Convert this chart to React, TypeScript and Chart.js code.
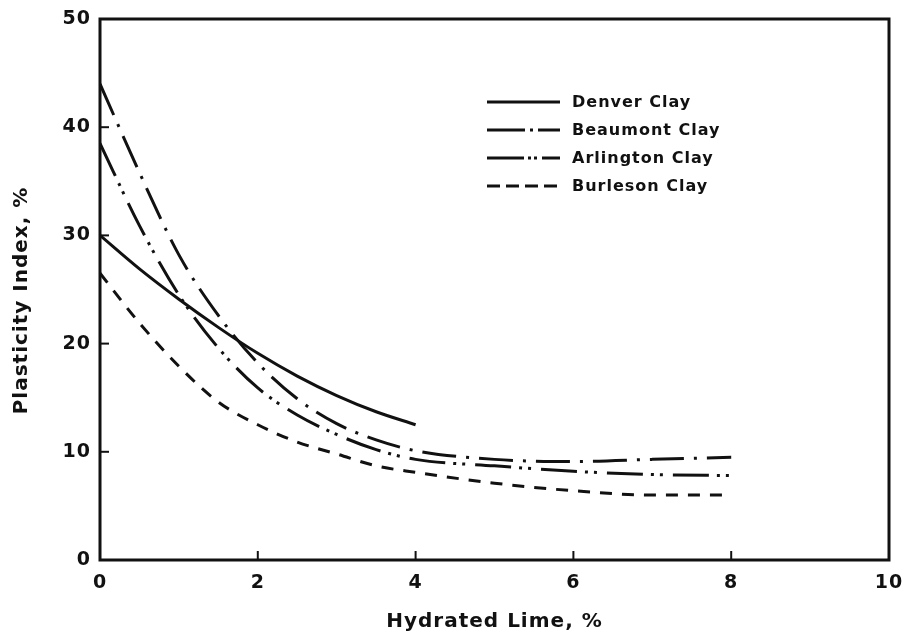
import React, { useEffect, useRef } from "react";
import { Chart, registerables } from "chart.js";

Chart.register(...registerables);

// ---- data ----
const xLong = [0, 0.5, 1, 1.5, 2, 2.5, 3, 3.5, 4, 5, 6, 7, 8];
const xShort = [0, 0.5, 1, 1.5, 2, 2.5, 3, 3.5, 4];
const denverClay = [30, 26.9, 24.1, 21.5, 19.1, 17.0, 15.2, 13.7, 12.5];
const beaumontClay = [44, 35.8, 28.2, 22.6, 18.2, 14.9, 12.6, 11.1, 10.1, 9.3, 9.1, 9.3, 9.5];
const arlingtonClay = [38.5, 30.9, 24.5, 19.6, 15.9, 13.4, 11.6, 10.2, 9.3, 8.7, 8.2, 7.9, 7.8];
const burlesonClay = [26.5, 21.9, 17.9, 14.6, 12.5, 10.9, 9.8, 8.7, 8.1, 7.1, 6.4, 6.0, 6.0];
const seriesNames = ["Denver Clay", "Beaumont Clay", "Arlington Clay", "Burleson Clay"];
const xTickValues = [0, 2, 4, 6, 8, 10];
const yTickValues = [0, 10, 20, 30, 40, 50];
const xTitle = "Hydrated Lime, %";
const yTitle = "Plasticity Index, %";

// ---- styles ----
const FONT = "'DejaVu Sans', 'Liberation Sans', sans-serif";
const INK = "#111111";
const plotDash: number[][] = [[], [34, 10, 3, 10], [36, 8, 3, 6, 3, 10], [12, 10]];
const legendDash: number[][] = [[], [38, 5, 3, 5, 30, 100], [37, 4, 3, 3, 3, 5, 30, 100], [13, 6]];

const toPts = (xs: number[], ys: number[]) => ys.map((y, i) => ({ x: xs[i], y }));

const letterSpacingPlugin = {
  id: "letterSpacing",
  beforeUpdate(chart: any) {
    chart.ctx.letterSpacing = "1px";
  },
  beforeDraw(chart: any) {
    chart.ctx.letterSpacing = "1px";
  },
};

const framePlugin = {
  id: "frameAndLegend",
  afterDraw(chart: any) {
    const { ctx, chartArea } = chart;
    const xs = chart.scales.x;
    const ys = chart.scales.y;
    ctx.save();
    ctx.strokeStyle = INK;
    ctx.lineWidth = 3;
    ctx.setLineDash([]);
    ctx.strokeRect(chartArea.left, chartArea.top, chartArea.right - chartArea.left, chartArea.bottom - chartArea.top);
    // inward tick marks
    ctx.lineWidth = 2;
    const tl = 9;
    xTickValues.slice(1, -1).forEach((v) => {
      const px = xs.getPixelForValue(v);
      ctx.beginPath();
      ctx.moveTo(px, chartArea.bottom);
      ctx.lineTo(px, chartArea.bottom - tl);
      ctx.stroke();
    });
    yTickValues.slice(1, -1).forEach((v) => {
      const py = ys.getPixelForValue(v);
      ctx.beginPath();
      ctx.moveTo(chartArea.left, py);
      ctx.lineTo(chartArea.left + tl, py);
      ctx.stroke();
    });
    // y axis title
    ctx.fillStyle = INK;
    ctx.font = `bold 20px ${FONT}`;
    ctx.textAlign = "center";
    ctx.textBaseline = "middle";
    ctx.save();
    ctx.translate(22, (chartArea.top + chartArea.bottom) / 2 + 11);
    ctx.rotate(-Math.PI / 2);
    ctx.fillText(yTitle, 0, 0);
    ctx.restore();
    // legend
    const lx0 = chartArea.left + 387;
    const lx1 = chartArea.left + 460;
    const tx = chartArea.left + 472;
    const rowY0 = chartArea.top + 83;
    const rowGap = 28;
    ctx.font = `bold 16px ${FONT}`;
    ctx.textBaseline = "middle";
    ctx.textAlign = "left";
    chart.data.datasets.forEach((ds: any, i: number) => {
      const y = rowY0 + i * rowGap;
      ctx.lineWidth = 3;
      ctx.lineCap = "butt";
      ctx.setLineDash(legendDash[i]);
      ctx.beginPath();
      ctx.moveTo(lx0, y);
      ctx.lineTo(lx1, y);
      ctx.stroke();
      ctx.setLineDash([]);
      ctx.fillText(ds.label, tx, y + 1);
    });
    ctx.restore();
  },
};

export default function App() {
  const ref = useRef<HTMLCanvasElement | null>(null);

  useEffect(() => {
    if (!ref.current) return;
    const series = [
      toPts(xShort, denverClay),
      toPts(xLong, beaumontClay),
      toPts(xLong, arlingtonClay),
      toPts(xLong, burlesonClay),
    ];
    const chart = new Chart(ref.current, {
      type: "line",
      data: {
        datasets: series.map((d, i) => ({
          label: seriesNames[i],
          data: d,
          borderColor: INK,
          backgroundColor: INK,
          borderWidth: 3,
          borderDash: plotDash[i],
          borderCapStyle: "butt",
          pointRadius: 0,
          fill: false,
          cubicInterpolationMode: "monotone",
        })),
      },
      options: {
        animation: false,
        responsive: false,
        devicePixelRatio: 1,
        layout: { padding: { left: 0, top: 19, right: 17, bottom: 0 } },
        plugins: { legend: { display: false }, tooltip: { enabled: false } },
        scales: {
          x: {
            type: "linear",
            min: 0,
            max: 10,
            afterBuildTicks: (s: any) => {
              s.ticks = xTickValues.map((v) => ({ value: v }));
            },
            afterFit: (s: any) => {
              s.height = 80;
              s.paddingLeft = 0;
              s.paddingRight = 0;
            },
            grid: { display: false, drawTicks: false },
            border: { display: false },
            ticks: {
              color: INK,
              padding: 12,
              maxRotation: 0,
              font: { family: FONT, size: 19, weight: "bold" },
            },
            title: {
              display: true,
              text: xTitle,
              color: INK,
              font: { family: FONT, size: 20, weight: "bold" },
              padding: { top: 0, bottom: 6 },
            },
          },
          y: {
            type: "linear",
            min: 0,
            max: 50,
            afterBuildTicks: (s: any) => {
              s.ticks = yTickValues.map((v) => ({ value: v }));
            },
            afterFit: (s: any) => {
              s.width = 100;
              s.paddingTop = 0;
              s.paddingBottom = 0;
            },
            grid: { display: false, drawTicks: false },
            border: { display: false },
            ticks: {
              color: INK,
              padding: 9,
              font: { family: FONT, size: 19, weight: "bold" },
            },
            title: { display: false, text: yTitle },
          },
        },
      },
      plugins: [letterSpacingPlugin, framePlugin],
    } as any);
    return () => chart.destroy();
  }, []);

  return (
    <div style={{ position: "fixed", left: 0, top: 0, width: 906, height: 640, background: "#fff" }}>
      <canvas ref={ref} width={906} height={640} style={{ display: "block", width: 906, height: 640 }} />
    </div>
  );
}
